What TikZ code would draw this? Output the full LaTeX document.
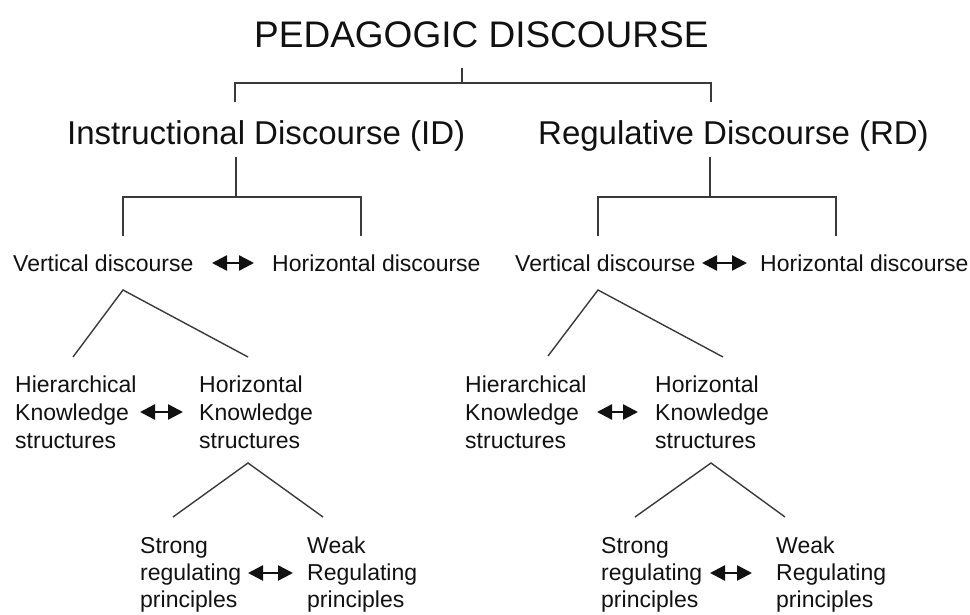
\documentclass[tikz,border=0pt]{standalone}
\usepackage{fontspec}
\setmainfont{Liberation Sans}
\usetikzlibrary{arrows.meta}
\definecolor{ink}{HTML}{111111}
\definecolor{linec}{HTML}{3A3A3A}
\tikzset{
  lbl/.style={anchor=base west, inner sep=0pt, text=ink, align=left},
  ttl/.style={lbl, font=\fontsize{37}{44}\selectfont},
  big/.style={lbl, font=\fontsize{33}{40}\selectfont},
  small/.style={lbl, font=\fontsize{23}{28}\selectfont},
  smallb/.style={lbl, font=\fontsize{23}{27}\selectfont},
  conn/.style={draw=linec, line width=1.4pt},
  dbl/.style={line width=2.5pt, ink, {Triangle[length=15pt,width=15pt]}-{Triangle[length=15pt,width=15pt]}}
}
\begin{document}
\begin{tikzpicture}[x=1pt,y=-1pt]
\useasboundingbox (0,0) rectangle (970,615);
% texts (multi-line nodes are placed by the baseline of their last line)
\node[ttl] (pd) at (254,48) {PEDAGOGIC DISCOURSE};
\node[big] (id) at (67,145) {Instructional Discourse (ID)};
\node[big] (rd) at (538,145) {Regulative Discourse (RD)};
\node[small] (vdL) at (13,271) {Vertical discourse};
\node[small] (hdL) at (272,271) {Horizontal discourse};
\node[small] (vdR) at (515,271) {Vertical discourse};
\node[small] (hdR) at (760,271) {Horizontal discourse};
\node[small] (hkL) at (15,448) {Hierarchical\\Knowledge\\structures};
\node[small] (zkL) at (199,448) {Horizontal\\Knowledge\\structures};
\node[small] (hkR) at (465,448) {Hierarchical\\Knowledge\\structures};
\node[small] (zkR) at (655,448) {Horizontal\\Knowledge\\structures};
\node[smallb] (srL) at (140,607) {Strong\\regulating\\principles};
\node[smallb] (wrL) at (307,607) {Weak\\Regulating\\principles};
\node[smallb] (srR) at (601,607) {Strong\\regulating\\principles};
\node[smallb] (wrR) at (776,607) {Weak\\Regulating\\principles};
% coordinates of connectors
\coordinate (pdT) at (462,68);
\coordinate (pdB) at (462,83);
\coordinate (pdl) at (235,102);
\coordinate (pdr) at (711,102);
\coordinate (idT) at (236,157);
\coordinate (idB) at (236,197);
\coordinate (idl) at (123,236);
\coordinate (idr) at (361,236);
\coordinate (rdT) at (710,157);
\coordinate (rdB) at (710,197);
\coordinate (rdl) at (598,236);
\coordinate (rdr) at (836,236);
\coordinate (vdLa) at (123,290);
\coordinate (vdLl) at (73,357);
\coordinate (vdLr) at (248,357);
\coordinate (vdRa) at (598,290);
\coordinate (vdRl) at (548,356);
\coordinate (vdRr) at (723,357);
\coordinate (zkLa) at (248,463);
\coordinate (zkLl) at (173,517);
\coordinate (zkLr) at (323,517);
\coordinate (zkRa) at (711,463);
\coordinate (zkRl) at (635,517);
\coordinate (zkRr) at (785,517);
% brackets
\draw[conn] (pdT) -- (pdB);
\draw[conn] (pdl) |- (pdB) -| (pdr);
\draw[conn] (idT) -- (idB);
\draw[conn] (idl) |- (idB) -| (idr);
\draw[conn] (rdT) -- (rdB);
\draw[conn] (rdl) |- (rdB) -| (rdr);
% trees
\draw[conn] (vdLl) -- (vdLa) -- (vdLr);
\draw[conn] (vdRl) -- (vdRa) -- (vdRr);
\draw[conn] (zkLl) -- (zkLa) -- (zkLr);
\draw[conn] (zkRl) -- (zkRa) -- (zkRr);
% double arrows
\coordinate (a1l) at (212,263); \coordinate (a1r) at (254,263);
\coordinate (a2l) at (702,263); \coordinate (a2r) at (747,263);
\coordinate (a3l) at (140,412); \coordinate (a3r) at (183,412);
\coordinate (a4l) at (597,412); \coordinate (a4r) at (638,412);
\coordinate (a5l) at (248,573); \coordinate (a5r) at (293,573);
\coordinate (a6l) at (710,573); \coordinate (a6r) at (752,573);
\draw[dbl] (a1l) -- (a1r);
\draw[dbl] (a2l) -- (a2r);
\draw[dbl] (a3l) -- (a3r);
\draw[dbl] (a4l) -- (a4r);
\draw[dbl] (a5l) -- (a5r);
\draw[dbl] (a6l) -- (a6r);
\end{tikzpicture}
\end{document}
